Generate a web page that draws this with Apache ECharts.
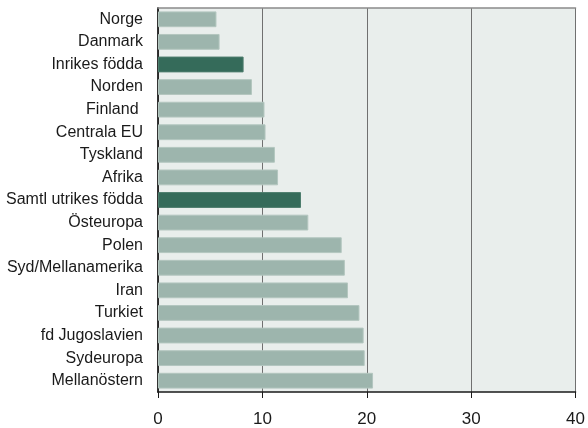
<!DOCTYPE html>
<html>
<head>
<meta charset="utf-8">
<script src="https://cdn.jsdelivr.net/npm/echarts@6/dist/echarts.min.js"></script>
<style>
  html, body { margin: 0; padding: 0; background: #ffffff; }
  #chart { width: 588px; height: 428px; }
</style>
</head>
<body>
<div id="chart"></div>
<script>
// Categories listed top to bottom
const categories = [
  'Norge', 'Danmark', 'Inrikes födda', 'Norden', 'Finland ', 'Centrala EU',
  'Tyskland', 'Afrika', 'Samtl utrikes födda', 'Östeuropa', 'Polen',
  'Syd/Mellanamerika', 'Iran', 'Turkiet', 'fd Jugoslavien', 'Sydeuropa', 'Mellanöstern'
];
const values = [
  5.6, 5.9, 8.2, 9.0, 10.2, 10.3,
  11.2, 11.5, 13.7, 14.4, 17.6,
  17.9, 18.2, 19.3, 19.7, 19.8, 20.6
];
// Aggregate groups drawn in the darker colour
const highlighted = ['Inrikes födda', 'Samtl utrikes födda'];
const xTicks = [0, 10, 20, 30, 40];

const FONT = '"Liberation Sans", Arial, sans-serif';

const chart = echarts.init(document.getElementById('chart'), null, { renderer: 'canvas' });

chart.setOption({
  animation: false,
  grid: {
    left: 158, right: 11, top: 8, bottom: 36,
    show: true,
    backgroundColor: '#e9eeec',
    borderWidth: 0
  },
  xAxis: [{
    type: 'value',
    min: xTicks[0],
    max: xTicks[xTicks.length - 1],
    interval: 10,
    axisLine: { show: true, lineStyle: { color: '#1a1a1a', width: 1.5 } },
    axisTick: { show: true, length: 6, lineStyle: { color: '#1a1a1a', width: 1 } },
    axisLabel: { color: '#1a1a1a', fontFamily: FONT, fontSize: 17, margin: 19 },
    splitLine: { show: true, lineStyle: { color: '#707070', width: 1 } }
  }, {
    // top frame edge
    type: 'value',
    position: 'top',
    min: xTicks[0],
    max: xTicks[xTicks.length - 1],
    interval: 10,
    axisLine: { show: true, lineStyle: { color: '#8a8a8a', width: 1.5 } },
    axisTick: { show: false },
    axisLabel: { show: false },
    splitLine: { show: false }
  }],
  yAxis: [{
    type: 'category',
    data: categories,
    inverse: true,
    axisLine: { show: true, onZero: false, lineStyle: { color: '#1a1a1a', width: 1.5 } },
    axisTick: { show: false },
    axisLabel: { color: '#1a1a1a', fontFamily: FONT, fontSize: 16, margin: 15 },
    splitLine: { show: false }
  }, {
    // right frame edge
    type: 'category',
    data: categories,
    inverse: true,
    position: 'right',
    axisLine: { show: true, lineStyle: { color: '#2a2a2a', width: 1.5 } },
    axisTick: { show: false },
    axisLabel: { show: false }
  }],
  series: [{
    type: 'bar',
    data: values.map((v, i) => ({
      value: v,
      itemStyle: {
        color: highlighted.includes(categories[i]) ? '#356b5a' : '#9db5ad',
        borderColor: highlighted.includes(categories[i]) ? '#4d7d6d' : '#b3c6bf',
        borderWidth: 1
      }
    })),
    barCategoryGap: '30%'
  }]
});
</script>
</body>
</html>
